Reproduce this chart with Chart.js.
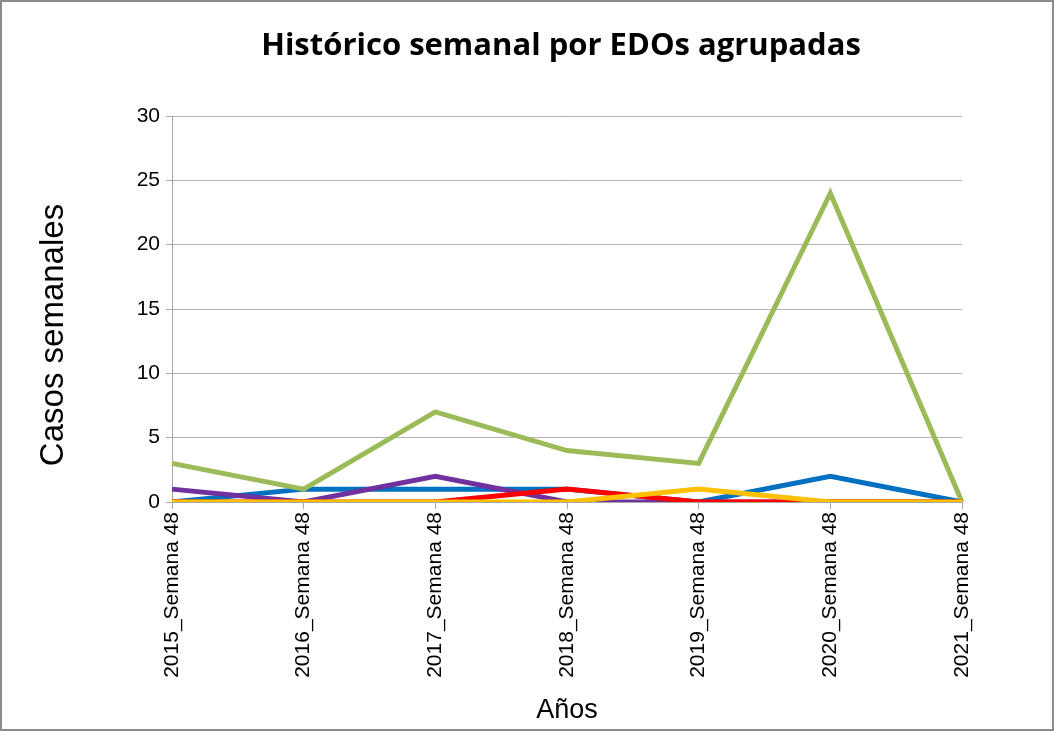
<!DOCTYPE html>
<html>
<head>
<meta charset="utf-8">
<script src="https://cdn.jsdelivr.net/npm/chart.js@4/dist/chart.umd.min.js"></script>
<style>
  html, body { margin: 0; padding: 0; background: #fff; }
  #wrap { width: 1054px; height: 731px; }
</style>
</head>
<body>
<div id="wrap"><canvas id="grafico" width="1054" height="731"></canvas></div>
<script>
// categorias (semana 48 de cada año)
const semanas = ['2015_Semana 48', '2016_Semana 48', '2017_Semana 48', '2018_Semana 48',
                 '2019_Semana 48', '2020_Semana 48', '2021_Semana 48'];

// casos semanales por serie
const serieVerde    = [3, 1, 7, 4, 3, 24, 0];
const serieAzul     = [0, 1, 1, 1, 0, 2, 0];
const serieMorada   = [1, 0, 2, 0, 0, 0, 0];
const serieRoja     = [0, 0, 0, 1, 0, 0, 0];
const serieAmarilla = [0, 0, 0, 0, 1, 0, 0];

const ejeY = { min: 0, max: 30, paso: 5 };

const titulo = 'Histórico semanal por EDOs agrupadas';
const tituloY = 'Casos semanales';

const gris = '#a6a6a6';

// marco del grafico, titulo y titulo del eje Y
const decoracion = {
  id: 'decoracion',
  afterDraw(chart) {
    const ctx = chart.ctx;
    const area = chart.chartArea;
    ctx.save();
    ctx.strokeStyle = '#8c8c8c';
    ctx.lineWidth = 2;
    ctx.strokeRect(1, 1, chart.width - 2, chart.height - 2);

    ctx.fillStyle = '#000';
    ctx.textAlign = 'center';
    ctx.textBaseline = 'middle';
    ctx.font = 'bold 31px "Open Sans"';
    ctx.fillText(titulo, (area.left + area.right) / 2 - 6, 46);

    ctx.translate(54, 335);
    ctx.rotate(-Math.PI / 2);
    ctx.font = '33px "Liberation Sans"';
    ctx.fillText(tituloY, 0, 0);
    ctx.restore();
  }
};

function serie(nombre, datos, color, orden) {
  return {
    label: nombre,
    data: datos,
    borderColor: color,
    backgroundColor: color,
    borderWidth: 5,
    pointRadius: 0,
    tension: 0,
    fill: false,
    order: orden
  };
}

const config = {
  type: 'line',
  data: {
    labels: semanas,
    datasets: [
      serie('Serie 1', serieAzul, '#0070C0', 5),
      serie('Serie 2', serieMorada, '#7030A0', 4),
      serie('Serie 3', serieVerde, '#9BBB59', 3),
      serie('Serie 4', serieRoja, '#FF0000', 2),
      serie('Serie 5', serieAmarilla, '#FFC000', 1)
    ]
  },
  options: {
    responsive: false,
    animation: false,
    layout: { padding: { left: 0, right: 92, top: 116, bottom: 4 } },
    plugins: {
      legend: { display: false },
      tooltip: { enabled: false },
      title: { display: false }
    },
    scales: {
      x: {
        grid: { display: true, drawOnChartArea: false, drawTicks: true, tickLength: 7, tickColor: gris },
        border: { display: true, color: gris, width: 1 },
        offset: false,
        ticks: {
          color: '#000',
          font: { family: 'Liberation Sans', size: 21 },
          minRotation: 90,
          maxRotation: 90,
          padding: 3
        },
        title: {
          display: true,
          text: 'Años',
          color: '#000',
          font: { family: 'Liberation Sans', size: 27 },
          padding: { top: 0, bottom: 0 }
        },
        afterFit(scale) { scale.height = 225; }
      },
      y: {
        min: ejeY.min,
        max: ejeY.max,
        ticks: {
          stepSize: ejeY.paso,
          color: '#000',
          font: { family: 'Liberation Sans', size: 21 },
          padding: 6
        },
        grid: { color: '#b3b3b3', lineWidth: 1, drawTicks: true, tickLength: 6, tickColor: gris },
        border: { display: true, color: gris, width: 1 },
        afterFit(scale) { scale.width = 172; }
      }
    }
  },
  plugins: [decoracion]
};

const grafico = new Chart(document.getElementById('grafico'), config);
</script>
</body>
</html>
